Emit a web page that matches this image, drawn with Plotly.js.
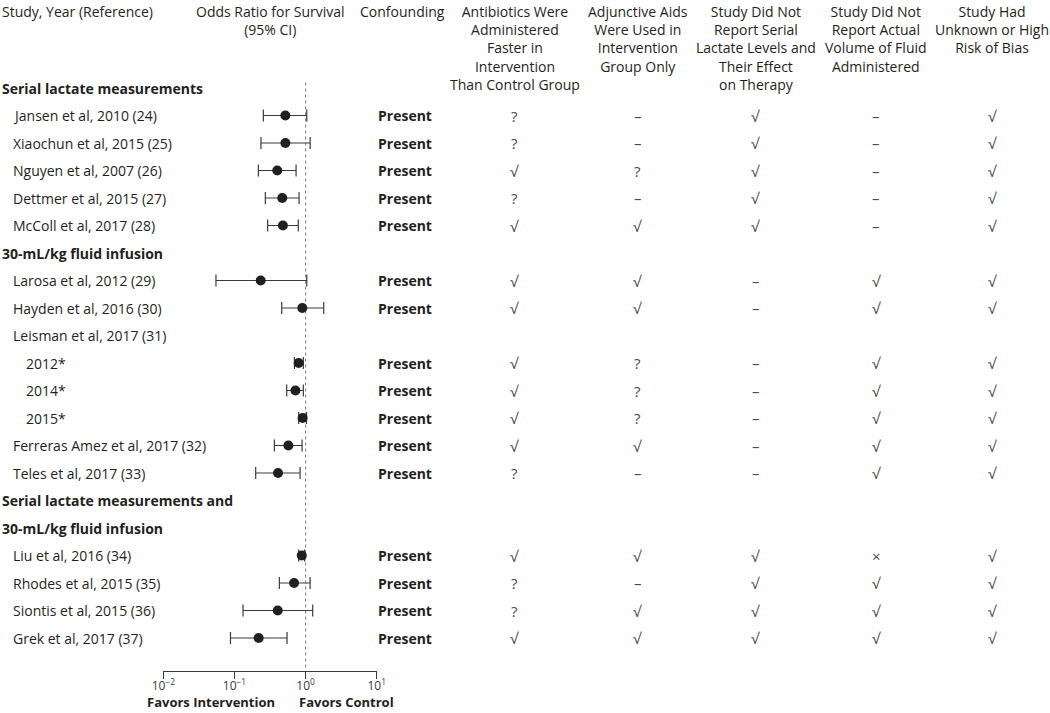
<!DOCTYPE html>
<html><head><meta charset="utf-8">
<script src="https://cdn.plot.ly/plotly-3.0.1.min.js"></script>
<style>html,body{margin:0;padding:0;background:#fff}#chart{width:1050px;height:713px}</style>
</head><body><div id="chart"></div>
<script>
// ---- data ----
const rowLabels = [
  "Serial lactate measurements",
  "Jansen et al, 2010 (24)",
  "Xiaochun et al, 2015 (25)",
  "Nguyen et al, 2007 (26)",
  "Dettmer et al, 2015 (27)",
  "McColl et al, 2017 (28)",
  "30-mL/kg fluid infusion",
  "Larosa et al, 2012 (29)",
  "Hayden et al, 2016 (30)",
  "Leisman et al, 2017 (31)",
  "2012*",
  "2014*",
  "2015*",
  "Ferreras Amez et al, 2017 (32)",
  "Teles et al, 2017 (33)",
  "Serial lactate measurements and",
  "30-mL/kg fluid infusion",
  "Liu et al, 2016 (34)",
  "Rhodes et al, 2015 (35)",
  "Siontis et al, 2015 (36)",
  "Grek et al, 2017 (37)"
];
const rowLevel = [0,1,1,1,1,1,0,1,1,1,2,2,2,1,1,0,0,1,1,1,1];
const orPoint = [null,0.52,0.52,0.40,0.47,0.48,null,0.234,0.90,null,0.80,0.72,0.91,0.573,0.41,null,null,0.884,0.689,0.406,0.219];
const orLower = [null,0.255,0.236,0.217,0.272,0.293,null,0.055,0.462,null,0.697,0.543,0.80,0.364,0.199,null,null,0.80,0.428,0.132,0.088];
const orUpper = [null,1.04,1.16,0.735,0.81,0.79,null,1.04,1.80,null,0.93,0.93,1.03,0.893,0.837,null,null,0.97,1.157,1.26,0.549];
const confounding = [null,"Present","Present","Present","Present","Present",null,"Present","Present",null,"Present","Present","Present","Present","Present",null,null,"Present","Present","Present","Present"];
const colHeaders = [
  "Confounding",
  "Antibiotics Were<br>Administered<br>Faster in<br>Intervention<br>Than Control Group",
  "Adjunctive Aids<br>Were Used in<br>Intervention<br>Group Only",
  "Study Did Not<br>Report Serial<br>Lactate Levels and<br>Their Effect<br>on Therapy",
  "Study Did Not<br>Report Actual<br>Volume of Fluid<br>Administered",
  "Study Had<br>Unknown or High<br>Risk of Bias"
];
const colAntibiotics = [null,"?","?","√","?","√",null,"√","√",null,"√","√","√","√","?",null,null,"√","?","?","√"];
const colAdjunctive  = [null,"–","–","?","–","√",null,"√","√",null,"?","?","?","√","–",null,null,"√","–","√","√"];
const colLactate     = [null,"√","√","√","√","√",null,"–","–",null,"–","–","–","–","–",null,null,"√","√","√","√"];
const colVolume      = [null,"–","–","–","–","–",null,"√","√",null,"√","√","√","√","√",null,null,"×","√","√","√"];
const colBias        = [null,"√","√","√","√","√",null,"√","√",null,"√","√","√","√","√",null,null,"√","√","√","√"];
const tickValues = [0.01,0.1,1,10];
const tickLabels = ["10<sup>−2</sup>","10<sup>−1</sup>","10<sup>0</sup>","10<sup>1</sup>"];
const captionLeft = "Favors Intervention";
const captionRight = "Favors Control";

// ---- layout helpers ----
const W = 1050, H = 713;
const FONT = "Open Sans, Noto Sans, sans-serif";
const TXT = "#231f20";
const rowIdx = rowLabels.map((_, i) => i);
const studyRows = rowIdx.filter(i => orPoint[i] !== null);

const trace = {
  type: "scatter", mode: "markers",
  x: studyRows.map(i => orPoint[i]),
  y: studyRows,
  marker: {color: "#231f20", size: 10},
  error_x: {
    type: "data", symmetric: false,
    array: studyRows.map(i => orUpper[i] - orPoint[i]),
    arrayminus: studyRows.map(i => orPoint[i] - orLower[i]),
    color: "#3a3a3a", thickness: 1.2, width: 6
  },
  hoverinfo: "skip", showlegend: false, cliponaxis: false
};

const ann = [];
ann.push({xref:"paper", yref:"paper", x:0, y:1, xanchor:"left", yanchor:"top",
  text:"Study, Year (Reference)", showarrow:false, font:{family:FONT, size:14, color:TXT}});
ann.push({xref:"paper", yref:"paper", x:270/W, y:1, xanchor:"center", yanchor:"top",
  text:"Odds Ratio for Survival<br>(95% CI)", showarrow:false, font:{family:FONT, size:14, color:TXT}});
const colX = [402, 514.5, 637.5, 755.5, 876, 992];
colHeaders.forEach((h, k) => {
  ann.push({xref:"paper", yref:"paper", x:colX[k]/W, y:1, xanchor:"center", yanchor:"top",
    text:h, showarrow:false, font:{family:FONT, size:14, color:TXT}});
});
const indent = [0, 11, 24];
rowLabels.forEach((lab, i) => {
  ann.push({xref:"paper", yref:"y", x:indent[rowLevel[i]]/W, y:i, xanchor:"left", yanchor:"middle",
    text: rowLevel[i] === 0 ? "<b>" + lab + "</b>" : lab, showarrow:false,
    font:{family:FONT, size:14, color:TXT}});
});
const cols = [confounding, colAntibiotics, colAdjunctive, colLactate, colVolume, colBias];
cols.forEach((col, k) => {
  col.forEach((v, i) => {
    if (v === null) return;
    ann.push({xref:"paper", yref:"y", x:(k === 0 ? 405 : colX[k])/W, y:i, xanchor:"center", yanchor:"middle",
      text: k === 0 ? "<b>" + v + "</b>" : v, showarrow:false,
      font:{family:FONT, size: k === 0 ? 14 : 15, color: k === 0 ? TXT : "#4a4a4a"}});
  });
});
ann.push({xref:"paper", yref:"paper", x:277/W, y:0, xanchor:"right", yanchor:"bottom",
  text:"<b>" + captionLeft + "</b>", showarrow:false, font:{family:FONT, size:13, color:TXT}});
ann.push({xref:"paper", yref:"paper", x:297/W, y:0, xanchor:"left", yanchor:"bottom",
  text:"<b>" + captionRight + "</b>", showarrow:false, font:{family:FONT, size:13, color:TXT}});

const axisY = 670.7;
const rowTop = 88, rowStep = 27.5;
const yBottom = (axisY - rowTop) / rowStep;
const yTop = (0 - rowTop) / rowStep;

const layout = {
  width: W, height: H,
  margin: {l:0, r:0, t:0, b:0},
  paper_bgcolor: "#fff", plot_bgcolor: "rgba(0,0,0,0)",
  showlegend: false,
  xaxis: {
    type: "log", range: [-2, 1], domain: [163.3/W, 376.7/W],
    tickvals: tickValues, ticktext: tickLabels,
    showline: true, linecolor: "#3a3a3a", linewidth: 1.5,
    ticks: "outside", ticklen: 7, tickwidth: 1.5, tickcolor: "#3a3a3a",
    ticklabelstandoff: -4,
    showgrid: false, zeroline: false,
    tickfont: {family: FONT, size: 12, color: "#3a3a3a"},
    side: "bottom", fixedrange: true
  },
  yaxis: {
    range: [yBottom, yTop], domain: [1 - axisY/H, 1],
    showgrid: false, zeroline: false, showline: false, showticklabels: false, ticks: "",
    fixedrange: true
  },
  shapes: [{
    type: "line", xref: "x", yref: "y", x0: 1, x1: 1, y0: -0.2, y1: yBottom,
    line: {color: "#8a8a8a", width: 1.2, dash: "dot"}, layer: "below"
  }],
  annotations: ann
};

Plotly.newPlot("chart", [trace], layout, {displayModeBar: false, staticPlot: true});
</script>
</body></html>
